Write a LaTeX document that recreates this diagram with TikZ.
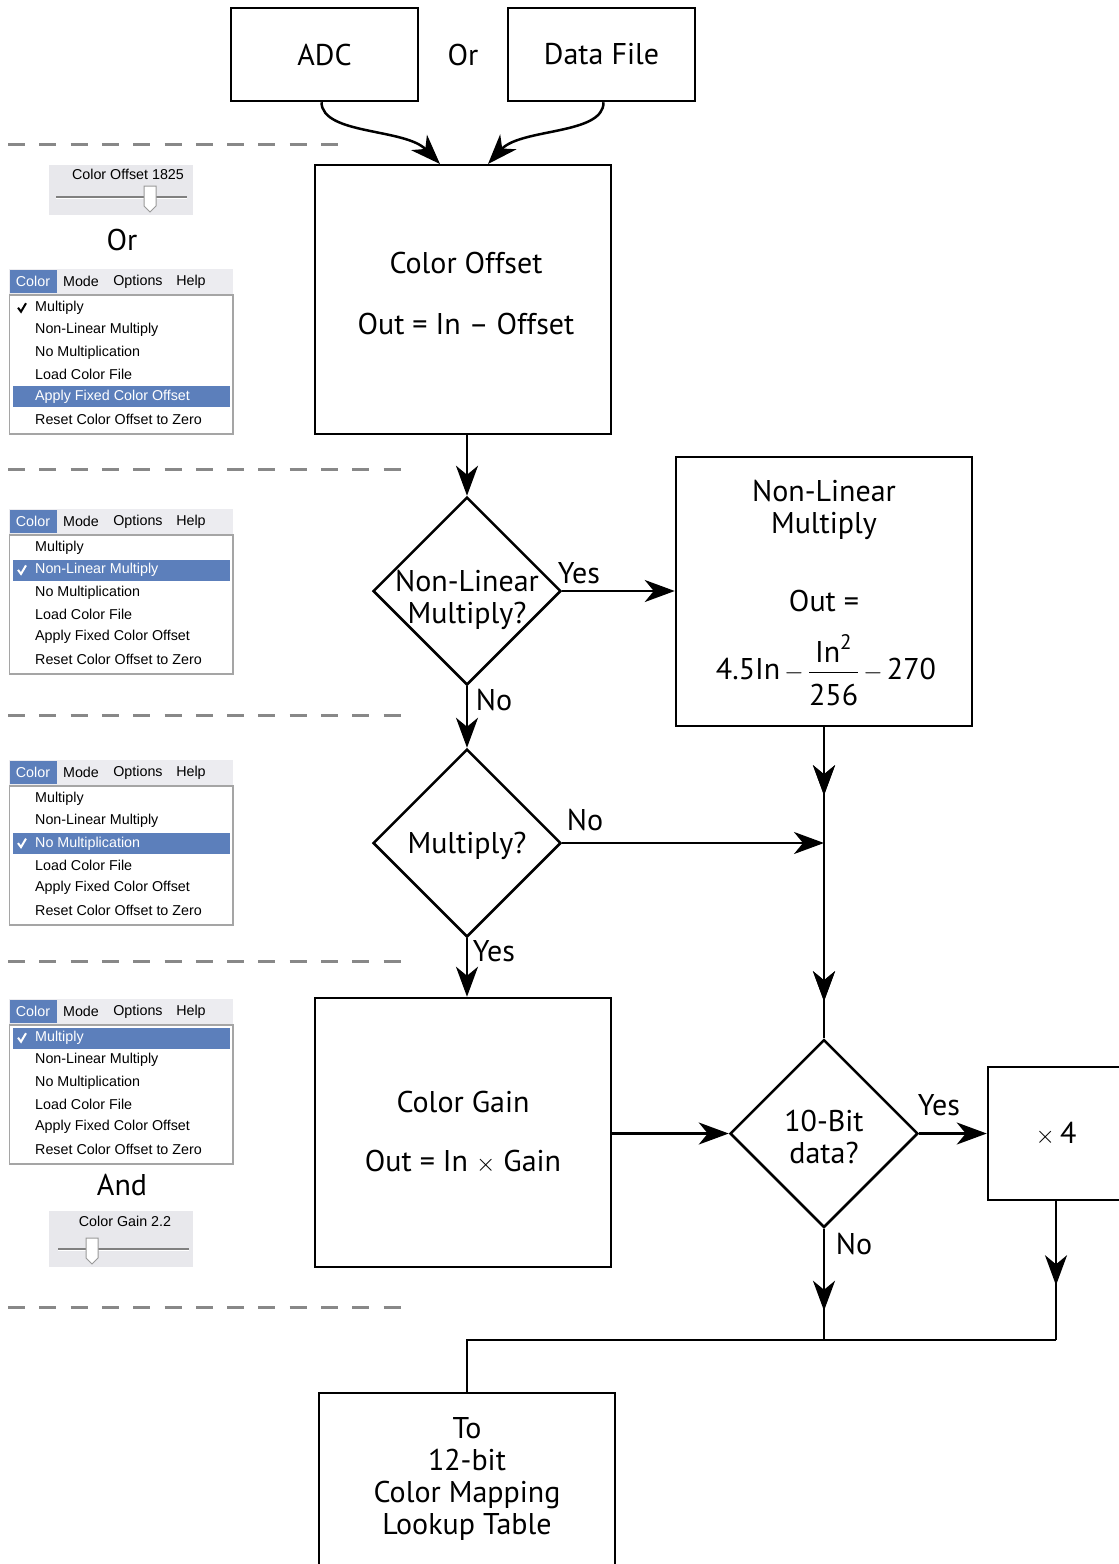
\documentclass[tikz,border=0pt]{standalone}
\usepackage{fontspec}
\usepackage{amsmath}
\setmainfont{PT Sans}
\newfontfamily\menufont{Liberation Sans}
\usetikzlibrary{arrows.meta,shapes.geometric,decorations.markings}

\definecolor{menublue}{RGB}{92,127,187}
\definecolor{menubar}{RGB}{236,236,240}
\definecolor{menuline}{RGB}{165,165,165}
\definecolor{sliderbg}{RGB}{232,232,236}
\definecolor{dashgray}{RGB}{136,136,136}

\newcommand\bigtext{\fontsize{30}{32}\selectfont}
\newcommand\menutext{\menufont\fontsize{14.3}{16}\selectfont}

\tikzset{
  flowbox/.style={draw, line width=2.5pt, inner sep=0pt, align=center, font=\bigtext},
  decision/.style={draw, diamond, line width=2.5pt, inner sep=0pt,
    minimum width=188pt, minimum height=188pt},
  flowline/.style={line width=2.5pt},
  flowarrow/.style={line width=2.5pt, -{Stealth[length=30pt,width=22pt,inset=9pt]}},
  midarrow/.style={line width=2.5pt, postaction={decorate},
    decoration={markings, mark=at position #1 with
      {\arrow{Stealth[length=30pt,width=22pt,inset=9pt]}}}},
  answer/.style={font=\bigtext, inner sep=0pt},
  boxtext/.style={font=\bigtext, align=center, inner sep=0pt},
  separator/.style={line width=3pt, dashgray, dash pattern=on 17pt off 14.3pt},
  menuitem/.style={font=\menutext, anchor=west, inner sep=0pt},
}

% one "Color" menu: top edge at #1, item #2 ticked, item #3 highlighted
\newcommand\colormenu[3]{%
  % menu bar
  \fill[menubar] (9,#1) rectangle (233,#1+25);
  \fill[menublue] (10,#1+1) rectangle (57,#1+24);
  \node[font=\menutext, text=white, inner sep=0pt] (bar#1c) at (33,#1+12.5) {Color};
  \node[font=\menutext, inner sep=0pt] (bar#1m) at (81,#1+12.5) {Mode};
  \node[font=\menutext, inner sep=0pt] (bar#1o) at (138,#1+12.5) {Options};
  \node[font=\menutext, inner sep=0pt] (bar#1h) at (191,#1+12.5) {Help};
  % drop-down list
  \draw[menuline, line width=1.2pt, fill=white] (9.5,#1+26) rectangle (233,#1+165);
  \fill[menublue] (13,#1+6.3+22.2*#3) rectangle (230,#1+27.3+22.2*#3);
  \ifnum#2=#3\relax\def\ck{white}\else\def\ck{black}\fi
  \draw[\ck, line width=2pt] (18,#1+16.5+22.2*#2) -- (21,#1+20.5+22.2*#2) -- (26,#1+12+22.2*#2);
  \foreach \t [count=\i] in {Multiply, Non-Linear Multiply, No Multiplication,
      Load Color File, Apply Fixed Color Offset, Reset Color Offset to Zero}{
    \ifnum\i=#3\relax\def\tc{white}\else\def\tc{black}\fi
    \node[menuitem, text=\tc] (item#1-\i) at (35,#1+16.8+22.2*\i) {\t};
  }
}

\begin{document}
\begin{tikzpicture}[x=1pt, y=-1pt]
  \useasboundingbox (0,0) rectangle (1119,1564);

  % sources
  \node[flowbox, minimum width=187pt, minimum height=93pt] (adc) at (324.5,54.5) {ADC};
  \node[font=\bigtext] (or) at (463,55) {Or};
  \node[flowbox, minimum width=187pt, minimum height=93pt] (file) at (601.5,54.5) {Data File};

  % main column
  \node[flowbox, minimum width=296pt, minimum height=269pt] (offset) at (463,299.5) {};
  \node[boxtext] (offsettext) at (466,293) {Color Offset\\[29pt]Out = In – Offset};
  \node[decision] (nlq) at (467,591) {};
  \node[boxtext] (nlqtext) at (467,600) {Non-Linear\\Multiply?};
  \node[decision] (mulq) at (467,843) {};
  \node[boxtext] (mulqtext) at (467,846) {Multiply?};
  \node[flowbox, minimum width=296pt, minimum height=269pt] (gain) at (463,1132.5)
    {Color Gain\\[27pt]Out = In $\times$ Gain};

  % right column
  \node[flowbox, minimum width=296pt, minimum height=269pt] (nlbox) at (824,591.5) {};
  \node[boxtext] (nltitle) at (824,510) {Non-Linear\\Multiply};
  \node[boxtext] (nlout) at (824,601) {Out =};
  \node[boxtext] (nlformula) at (826,670)
    {$\textrm{4.5In}\,{-}\,\dfrac{\textrm{In}^{\textrm{2}}\rule[-5pt]{0pt}{0pt}}{\rule{0pt}{29pt}\textrm{256}}\,{-}\,\textrm{270}$};
  \node[decision] (bitq) at (824,1133.5) {};
  \node[boxtext] (bitqtext) at (824,1137) {10-Bit\\data?};
  \node[flowbox, minimum width=136pt, minimum height=133pt] (times) at (1056,1133.5)
    {$\times$\,4};

  % output
  \node[flowbox, minimum width=296pt, minimum height=172pt] (lut) at (467,1479)
    {To\\12-bit\\Color Mapping\\Lookup Table};

  % junctions
  \coordinate (join) at (nlbox.south |- mulq.east);
  \coordinate (bitout) at (824,1340);
  \coordinate (timesout) at (1056,1340);
  \coordinate (lutin) at (467,1340);

  % connectors
  \draw[flowarrow] (adc.south) ++(-3,0) .. controls (322,135) and (405,128) .. (440,164);
  \draw[flowarrow] (file.south) ++(2,0) .. controls (604,135) and (521,128) .. (488,164);
  \draw[flowarrow] (offset.south -| nlq.north) -- (nlq.north);
  \draw[flowarrow] (nlq.east) -- (nlbox.west |- nlq.east);
  \draw[flowarrow] (nlq.south) -- (mulq.north);
  \draw[flowarrow] (mulq.east) -- (join);
  \draw[flowarrow] (mulq.south) -- (gain.north -| mulq.south);
  \draw[midarrow=68pt, midarrow=274pt] (nlbox.south) -- (bitq.north);
  \draw[flowarrow] (gain.east |- bitq.west) -- (bitq.west);
  \draw[flowarrow] (bitq.east) -- (times.west);
  \draw[midarrow=82pt] (bitq.south) -- (bitout);
  \draw[midarrow=84pt] (times.south) -- (timesout);
  \draw[flowline] (timesout) -- (lutin) -- (lut.north);

  % answers
  \node[answer] (yes1) at (579,573) {Yes};
  \node[answer] (no1) at (494,700) {No};
  \node[answer] (no2) at (585,820) {No};
  \node[answer] (yes2) at (494,951) {Yes};
  \node[answer] (yes3) at (939,1105) {Yes};
  \node[answer] (no3) at (854,1244) {No};

  % separators
  \draw[separator] (8,144) -- (340,144);
  \foreach \y in {469,715,961,1307}
    \draw[separator] (8,\y) -- (402,\y);

  % offset slider
  \fill[sliderbg] (49,165) rectangle (193,215);
  \node[font=\menutext, inner sep=0pt] (offslider) at (128,174) {Color Offset 1825};
  \draw[gray, line width=2.4pt] (56,197) -- (187,197);
  \draw[white, line width=0.8pt] (56,198.5) -- (187,198.5);
  \draw[gray!80, fill=white, line width=1pt] (144,186) -- (156,186) -- (156,206) -- (150,212) -- (144,206) -- cycle;
  \node[font=\bigtext] (or2) at (122,240) {Or};

  % menus
  \colormenu{269}{1}{5}
  \colormenu{509}{2}{2}
  \colormenu{760}{3}{3}
  \colormenu{999}{1}{1}

  % gain slider
  \node[font=\bigtext] (and) at (122,1185) {And};
  \fill[sliderbg] (49,1211) rectangle (193,1267);
  \node[font=\menutext, inner sep=0pt] (gainslider) at (125,1221) {Color Gain 2.2};
  \draw[gray, line width=2.4pt] (58,1249) -- (189,1249);
  \draw[white, line width=0.8pt] (58,1250.5) -- (189,1250.5);
  \draw[gray!80, fill=white, line width=1pt] (86,1238) -- (98,1238) -- (98,1258) -- (92,1264) -- (86,1258) -- cycle;
\end{tikzpicture}
\end{document}
